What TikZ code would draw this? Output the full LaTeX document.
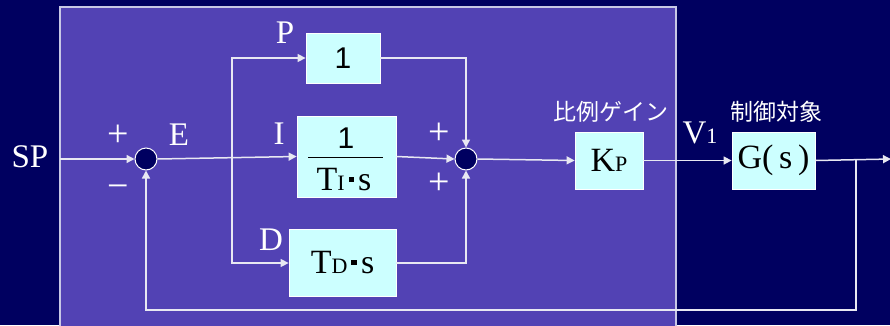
\documentclass[tikz,border=0pt]{standalone}
\usepackage{fontspec}
\setmainfont{Liberation Serif}
\newfontfamily\sansf{Liberation Sans}
\newfontfamily\jp{Noto Sans CJK JP}
\usetikzlibrary{arrows.meta}
\definecolor{bgnavy}{RGB}{0,0,96}
\definecolor{shadecol}{RGB}{82,66,180}
\definecolor{boxfill}{RGB}{204,255,255}
\definecolor{wirecol}{RGB}{232,232,242}
\definecolor{framecol}{RGB}{200,200,230}
\newcommand\sqdot{\hspace{0.12em}\raisebox{0.26em}{\rule{0.16em}{0.16em}}\hspace{0.12em}}
\newcommand\smallsub[1]{{\fontsize{22}{22}\selectfont #1}}
\begin{document}
\begin{tikzpicture}[x=1pt,y=-1pt,
  lbl/.style={text=white,font=\fontsize{33}{35}\selectfont,inner sep=0},
  sgn/.style={text=white,font=\fontsize{38}{40}\selectfont,inner sep=0},
  blk/.style={draw=white,line width=0.8pt,fill=boxfill,inner sep=0,font=\fontsize{34}{36}\selectfont},
  blktext/.style={inner sep=0,font=\fontsize{34}{36}\selectfont},
  onefont/.style={font=\sansf\fontsize{30}{32}\selectfont},
  sumj/.style={circle,draw=white,line width=1pt,fill=bgnavy,minimum size=22pt,inner sep=0},
  wire/.style={draw=wirecol,line width=1.5pt},
  arr/.style={wire,-{Triangle[length=8pt,width=8pt]}},
  jplbl/.style={text=white,font=\jp\fontsize{23}{25}\selectfont,inner sep=0}]
\fill[bgnavy] (0,0) rectangle (890,325);
\useasboundingbox (0,0) rectangle (890,325);
\fill[shadecol] (60,7) rectangle (676,330);
\draw[framecol,line width=1.5pt] (60,330) -- (60,7) -- (676,7) -- (676,330);

% nodes
\node[lbl] (sp) at (30,157) {SP};
\coordinate (spin) at (60,159);
\node[sumj] (s1) at (146,159) {};
\node[sgn] (plus1) at (118,136) {+};
\node[sgn] (minus1) at (118,192) {−};
\node[lbl] (e) at (179,135) {E};
\coordinate (br) at (232,159);

\node[blk,minimum width=74pt,minimum height=50pt,onefont] (pbox) at (343,58) {1};
\node[blk,minimum width=99pt,minimum height=81pt] (ibox) at (346.5,156.5) {};
\node[blktext,onefont] (inum) at (346,138) {1};
\node[blktext] (iden) at (344,180) {T\smallsub{I}\sqdot s};
\draw[black,line width=1pt] (308,157) -- (383,157);
\node[blk,minimum width=107pt,minimum height=67pt] (dbox) at (342.5,263) {T\smallsub{D}\sqdot s};

\node[lbl] (pl) at (285,33) {P};
\node[lbl] (il) at (279,134) {I};
\node[lbl] (dl) at (271,240) {D};

\node[sumj] (s2) at (466,159) {};
\node[sgn] (plus2) at (439,134) {+};
\node[sgn] (plus3) at (439,184) {+};

\node[blk,minimum width=68pt,minimum height=57pt] (kp) at (609,160.5) {K\smallsub{P}};
\node[jplbl] (kpl) at (611,112) {比例ゲイン};
\node[lbl] (v1) at (700,133) {V\smallsub{1}};
\node[blk,minimum width=83pt,minimum height=57pt] (g) at (773.5,160.5) {G(\,s\,)};
\node[jplbl] (gl) at (776,112) {制御対象};

\coordinate (tap) at (856,159);
\coordinate (out) at (891,159);
\coordinate (fb) at (856,310);

% connectors
\draw[arr] (spin) -- (s1.west);
\draw[arr] (s1.east) -- (ibox.west);
\draw[arr] (br) |- (pbox.west);
\draw[arr] (br) |- (dbox.west);
\draw[arr] (pbox.east) -| (s2.north);
\draw[arr] (ibox.east) -- (s2.west);
\draw[arr] (dbox.east) -| (s2.south);
\draw[arr] (s2.east) -- (kp.west);
\draw[arr] (kp.east) -- (g.west);
\draw[arr] (g.east) -- (out);
\draw[arr] (tap) -- (fb) -| (s1.south);
\end{tikzpicture}
\end{document}
